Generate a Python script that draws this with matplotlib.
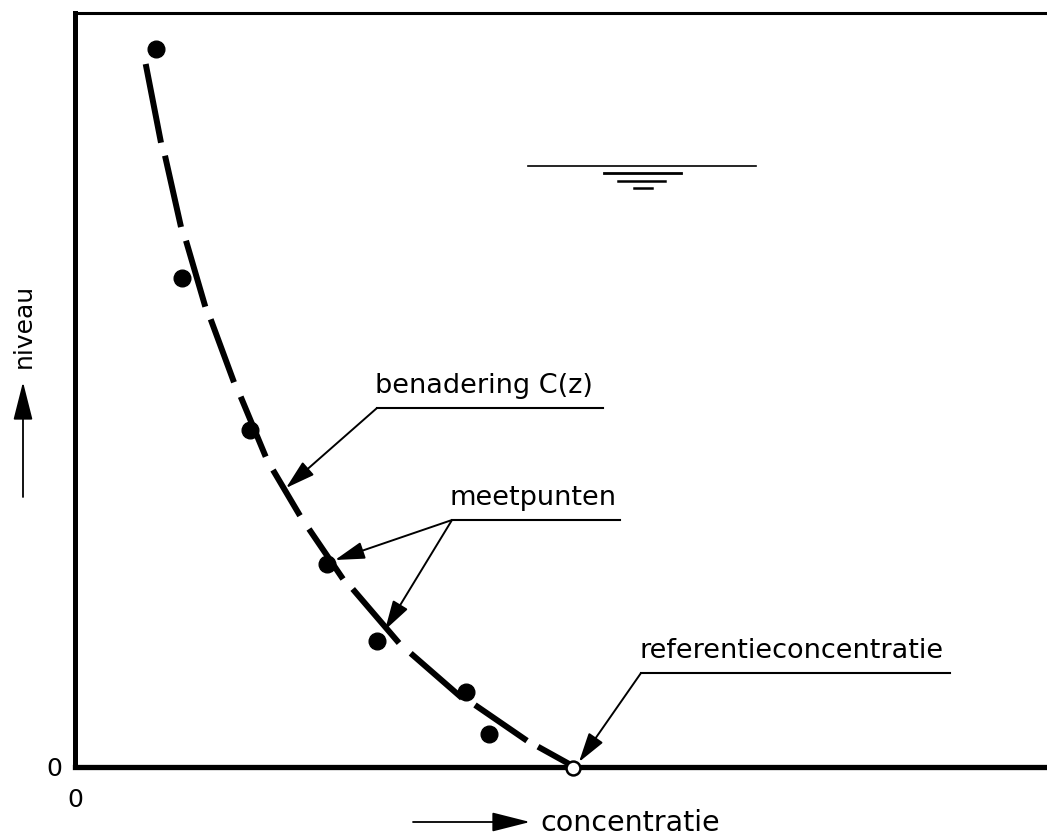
import matplotlib
matplotlib.use('Agg')
import matplotlib.pyplot as plt

nan = float('nan')

# measured points
meet_x = [81, 107, 175, 252, 302, 391, 414]
meet_y = [718, 489, 337, 203, 126, 75, 33]

# reference concentration
ref_x = [498]
ref_y = [-1]

# approximation C(z), nan = gap between the dashes
curve_x = [70.7, 86, nan, 90, 106, nan, 111, 130.3, nan, 135.7, 159, nan, 165.7, 190.7, nan,
           198, 225, nan, 234, 268, nan, 277.7, 324, nan, 335.7, 387, nan, 400, 452, nan, 463, 496]
curve_y = [703, 624.3, nan, 611.3, 540, nan, 526.3, 460.3, nan, 447.7, 384.7, nan, 370.3, 310.3, nan,
           297, 251.3, nan, 238, 188, nan, 178, 124, nan, 113.7, 69, nan, 62, 26.3, nan, 20.3, 2]

# water level symbol
water_x1 = [453, 529, 543, 559]
water_x2 = [681, 606, 590, 577]
water_y = [601, 594, 586, 579]

fig = plt.figure(figsize=(10.47, 8.36), dpi=100)
ax = fig.add_axes([75 / 1047, (836 - 767) / 836, 972 / 1047, 754 / 836])
ax.set_xlim(0, 972)
ax.set_ylim(0, 754)

ax.spines['right'].set_visible(False)
ax.spines['top'].set_linewidth(2.2)
ax.spines['left'].set_linewidth(3.6)
ax.spines['bottom'].set_linewidth(3.8)
ax.set_xticks([0])
ax.set_yticks([0])
ax.tick_params(length=0, labelsize=18, pad=15, axis='x')
ax.tick_params(length=0, labelsize=18, pad=9, axis='y')

ax.plot(curve_x, curve_y, color='black', lw=4.3, solid_capstyle='butt')
ax.plot(meet_x, meet_y, 'o', color='black', ms=12)
ax.plot(ref_x, ref_y, 'o', mfc='white', mec='black', mew=1.8, ms=10, clip_on=False, zorder=5)

for x1, x2, y, w in zip(water_x1, water_x2, water_y, [1.2, 2, 1.8, 1.8]):
    ax.plot([x1, x2], [y, y], color='black', lw=w)


def label(x, y, s, x2, arrows):
    ax.text(x - 2, y, s, fontsize=19.5, va='baseline', ha='left', color='black')
    ax.plot([x, x2], [y - 15, y - 15], color='black', lw=1.5)
    for tip in arrows:
        ax.annotate('', xy=tip, xytext=(x, y - 15),
                    arrowprops=dict(arrowstyle='-|>,head_length=1.3,head_width=0.38', color='black',
                                    lw=1.4, shrinkA=0, shrinkB=0, mutation_scale=14))


label(302, 374, 'benadering C(z)', 528, [(211, 279)])
label(377, 262, 'meetpunten', 545, [(260, 207), (310, 137)])
label(566, 109, 'referentieconcentratie', 875, [(504, 5)])

# axis arrows, drawn outside the axes
arrow = dict(arrowstyle='-|>,head_length=1.7,head_width=0.43', color='black', lw=1.3,
             shrinkA=0, shrinkB=0, mutation_scale=14)
ax.annotate('', xy=(455, -55), xytext=(338, -55), arrowprops=arrow, annotation_clip=False)
ax.annotate('', xy=(-52, 385), xytext=(-52, 270), arrowprops=arrow, annotation_clip=False)
ax.text(465, -56, 'concentratie', fontsize=20.5, va='center', ha='left', clip_on=False)
ax.text(-51, 441, 'niveau', fontsize=18, rotation=90, va='center', ha='center', clip_on=False)

plt.savefig('out.png', dpi=100)
